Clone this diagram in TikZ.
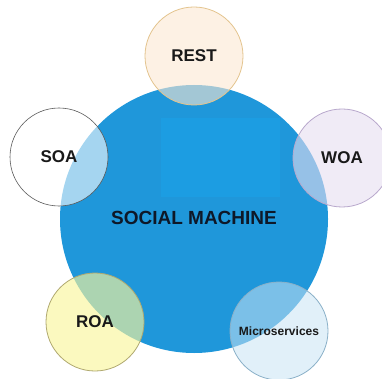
\documentclass[tikz,border=0pt]{standalone}
\usepackage{fontspec}
\setmainfont{Liberation Sans}
\usetikzlibrary{calc}
\definecolor{smblue}{HTML}{1F97DA}
\definecolor{boxblue}{HTML}{1C9DE2}
\definecolor{smtext}{HTML}{0E1828}
\definecolor{restfill}{HTML}{FCE8D2}
\definecolor{restline}{HTML}{E3C48E}
\definecolor{woafill}{HTML}{E6DDF0}
\definecolor{woaline}{HTML}{B8A8CC}
\definecolor{roafill}{HTML}{F9F69C}
\definecolor{roaline}{HTML}{B0A970}
\definecolor{mcfill}{HTML}{C8E3F4}
\definecolor{mcline}{HTML}{8AB0C8}
\newcommand\satsize{98pt}

\begin{document}
\begin{tikzpicture}[x=1pt, y=-1pt,
  sat/.style={circle, draw, line width=0.8pt, minimum size=\satsize, inner sep=0pt,
              fill opacity=0.6, text opacity=1, text=black!90,
              font=\bfseries\fontsize{17}{17}\selectfont}]

\useasboundingbox (0,0) rectangle (382,379);
\clip (0,0) rectangle (382,379);

% the machine in the middle
\node[circle, fill=smblue, minimum size=268pt, inner sep=0pt] (sm) at (194,219) {};
\fill[boxblue] (161,118) rectangle (280,197);
\node[font=\bfseries\fontsize{19}{19}\selectfont, text=smtext] (smlabel) at (194,218) {SOCIAL MACHINE};

% architectures around it
\node[sat, fill=restfill, draw=restline] (rest) at (194,56) {REST};
\node[sat, fill=white, draw=black!65, line width=0.6pt] (soa) at (59,157) {SOA};
\node[sat, fill=woafill, draw=woaline] (woa) at (342,158) {WOA};
\node[sat, fill=roafill, draw=roaline, fill opacity=0.65] (roa) at (95,322) {ROA};
\node[sat, fill=mcfill, draw=mcline, fill opacity=0.55,
      font=\bfseries\fontsize{12}{12}\selectfont] (micro) at (279,331) {Microservices};

\end{tikzpicture}
\end{document}
